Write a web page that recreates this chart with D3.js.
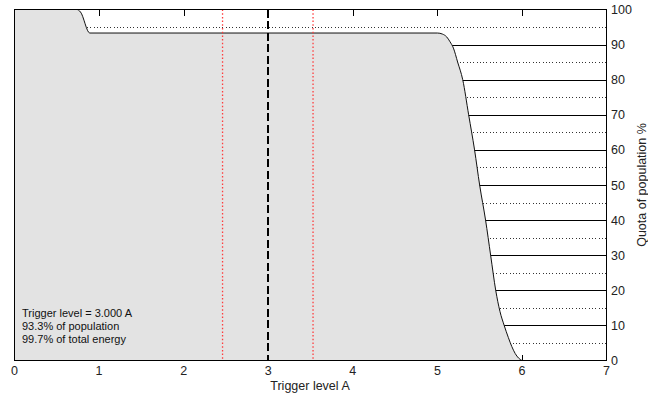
<!DOCTYPE html>
<html>
<head>
<meta charset="utf-8">
<script src="https://cdn.jsdelivr.net/npm/d3@7"></script>
<style>
  html, body { margin: 0; padding: 0; background: #fff; }
  svg { display: block; font-family: "Liberation Sans", Arial, sans-serif; }
</style>
</head>
<body>
<svg id="chart" width="648" height="398"></svg>
<script>
// Population quota (%) still above a given trigger level (A)
const triggerLevels = [0, 0.74, 0.78, 0.89, 5.0, 5.06, 5.11, 5.15, 5.19, 5.24, 5.30, 5.37, 5.44, 5.50, 5.57, 5.63, 5.69, 5.74, 5.79, 5.84, 5.88, 5.92, 5.96, 6.0];
const populationQuota = [100, 100, 99.3, 93.3, 93.3, 93.0, 92.2, 90.8, 89, 85, 80, 70, 60, 50, 40, 30, 20, 14, 10, 6.5, 4, 2, 0.7, 0];

const xTicks = [0, 1, 2, 3, 4, 5, 6, 7];
const yTicks = [0, 10, 20, 30, 40, 50, 60, 70, 80, 90, 100];
const yMinorGrid = [5, 15, 25, 35, 45, 55, 65, 75, 85, 95];

const selectedLevel = 3.0;
const boundLevels = [2.46, 3.53];
const infoLines = ["Trigger level = 3.000 A", "93.3% of population", "99.7% of total energy"];

const svg = d3.select("#chart");
const m = { left: 14.5, right: 606.5, top: 9.5, bottom: 360.5 };

const x = d3.scaleLinear().domain([0, 7]).range([m.left, m.right]);
const y = d3.scaleLinear().domain([0, 100]).range([m.bottom, m.top]);

// horizontal grid (hidden beneath the filled area)
const grid = svg.append("g").attr("shape-rendering", "crispEdges");
grid.selectAll("line.major").data(yTicks.filter(d => d > 0 && d < 100)).join("line")
  .attr("class", "major")
  .attr("x1", m.left).attr("x2", m.right)
  .attr("y1", d => Math.round(y(d)) + 0.5).attr("y2", d => Math.round(y(d)) + 0.5)
  .attr("stroke", "#000").attr("stroke-width", 1);
grid.selectAll("line.minor").data(yMinorGrid).join("line")
  .attr("class", "minor")
  .attr("x1", m.left).attr("x2", m.right)
  .attr("y1", d => Math.round(y(d)) + 0.5).attr("y2", d => Math.round(y(d)) + 0.5)
  .attr("stroke", "#333").attr("stroke-width", 1).attr("stroke-dasharray", "1,2.3");

// inward tick marks on top and bottom edges
const tickG = svg.append("g").attr("shape-rendering", "crispEdges");
tickG.selectAll("line.top").data(xTicks.slice(1, -1)).join("line")
  .attr("class", "top")
  .attr("x1", d => Math.round(x(d)) + 0.5).attr("x2", d => Math.round(x(d)) + 0.5)
  .attr("y1", m.top).attr("y2", m.top + 6)
  .attr("stroke", "#000");
tickG.selectAll("line.bot").data(xTicks.slice(1, -1)).join("line")
  .attr("class", "bot")
  .attr("x1", d => Math.round(x(d)) + 0.5).attr("x2", d => Math.round(x(d)) + 0.5)
  .attr("y1", m.bottom).attr("y2", m.bottom - 6)
  .attr("stroke", "#000");

// filled quota curve
const pts = triggerLevels.map((t, i) => [t, populationQuota[i]]);
svg.append("path")
  .datum(pts)
  .attr("fill", "#e3e3e3")
  .attr("d", d3.area().x(d => x(d[0])).y0(y(0)).y1(d => y(d[1])).curve(d3.curveMonotoneX));
svg.append("path")
  .datum(pts)
  .attr("fill", "none").attr("stroke", "#111").attr("stroke-width", 1)
  .attr("d", d3.line().x(d => x(d[0])).y(d => y(d[1])).curve(d3.curveMonotoneX));

// bound markers (red dotted) and selected trigger level (black dashed)
svg.append("g").selectAll("line").data(boundLevels).join("line")
  .attr("x1", d => x(d)).attr("x2", d => x(d))
  .attr("y1", m.top).attr("y2", m.bottom)
  .style("stroke", "rgb(255,60,60)").style("stroke-width", 1.3)
  .style("stroke-dasharray", "1.5,2.2");
svg.append("line")
  .attr("shape-rendering", "crispEdges")
  .attr("x1", x(selectedLevel)).attr("x2", x(selectedLevel))
  .attr("y1", m.top).attr("y2", m.bottom)
  .attr("stroke", "#000").attr("stroke-width", 2).attr("stroke-dasharray", "8,3.5");

// axes box
svg.append("rect")
  .attr("shape-rendering", "crispEdges")
  .attr("x", m.left).attr("y", m.top)
  .attr("width", m.right - m.left).attr("height", m.bottom - m.top)
  .attr("fill", "none").attr("stroke", "#000").attr("stroke-width", 1);

// bottom tick labels
svg.append("g").selectAll("text").data(xTicks).join("text")
  .attr("x", d => x(d)).attr("y", 375)
  .attr("text-anchor", "middle")
  .attr("font-size", 12.5).attr("fill", "#222")
  .text(d => d);

// right tick labels
svg.append("g").selectAll("text").data(yTicks).join("text")
  .attr("x", 611).attr("y", d => y(d) + 4.5)
  .attr("font-size", 12.5).attr("fill", "#222")
  .text(d => d);

// axis titles
svg.append("text")
  .attr("x", 310).attr("y", 390)
  .attr("text-anchor", "middle")
  .attr("font-size", 12.5).attr("fill", "#222")
  .text("Trigger level A");
svg.append("text")
  .attr("transform", `translate(646,${(m.top + m.bottom) / 2}) rotate(-90)`)
  .attr("text-anchor", "middle")
  .attr("font-size", 12.5).attr("fill", "#222")
  .text("Quota of population %");

// info block
svg.append("g").selectAll("text").data(infoLines).join("text")
  .attr("x", 22).attr("y", (d, i) => 316.5 + i * 13)
  .attr("font-size", 11).attr("fill", "#111")
  .text(d => d);
</script>
</body>
</html>
